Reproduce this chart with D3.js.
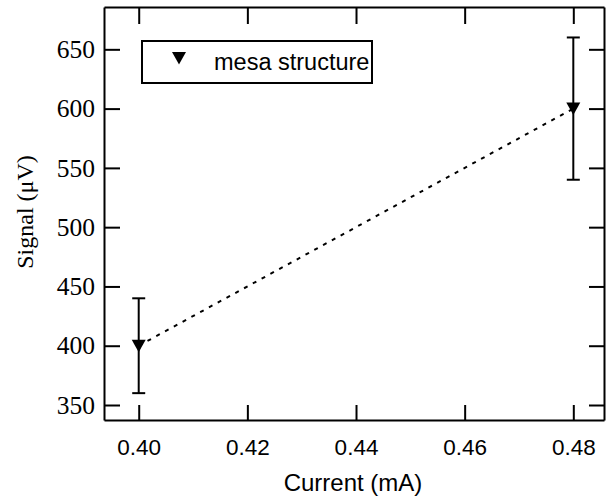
<!DOCTYPE html>
<html>
<head>
<meta charset="utf-8">
<script src="https://cdn.jsdelivr.net/npm/d3@7"></script>
<style>
  html, body { margin: 0; padding: 0; background: #fff; }
  svg { display: block; }
</style>
</head>
<body>
<svg id="chart" width="608" height="500"></svg>
<script>
// Measured signal versus drive current for the mesa structure
const current = [0.40, 0.48];          // mA
const signal = [400, 600];             // µV
const signalErr = [40, 60];            // µV, symmetric error
const xTickValues = [0.40, 0.42, 0.44, 0.46, 0.48];
const yTickValues = [350, 400, 450, 500, 550, 600, 650];
const seriesName = "mesa structure";

const W = 608, H = 500;
const plot = { left: 104, right: 604, top: 7, bottom: 420 };

const svg = d3.select("#chart");

const x = d3.scaleLinear().domain([0.39361, 0.48565]).range([plot.left, plot.right]);
const y = d3.scaleLinear().domain([337.35, 685.7]).range([plot.bottom, plot.top]);

const sans = "'Liberation Sans', Arial, sans-serif";
const serif = "'Liberation Serif', 'Times New Roman', serif";

// Axes: ticks point into the plot on all four sides
const gBottom = svg.append("g")
  .attr("transform", `translate(0,${plot.bottom})`)
  .call(d3.axisBottom(x).tickValues(xTickValues).tickFormat(d3.format(".2f"))
        .tickSizeInner(-15).tickSizeOuter(0).tickPadding(19));
gBottom.selectAll("text").attr("font-family", sans).attr("font-size", 22.5).attr("fill", "#000");

const gTop = svg.append("g")
  .attr("transform", `translate(0,${plot.top})`)
  .call(d3.axisTop(x).tickValues(xTickValues).tickFormat("")
        .tickSizeInner(-17).tickSizeOuter(0));

const gLeft = svg.append("g")
  .attr("transform", `translate(${plot.left},0)`)
  .call(d3.axisLeft(y).tickValues(yTickValues).tickFormat(d3.format("d"))
        .tickSizeInner(-16).tickSizeOuter(0).tickPadding(9));
gLeft.selectAll("text").attr("font-family", serif).attr("font-size", 25.5).attr("fill", "#000");

const gRight = svg.append("g")
  .attr("transform", `translate(${plot.right},0)`)
  .call(d3.axisRight(y).tickValues(yTickValues).tickFormat("")
        .tickSizeInner(-15).tickSizeOuter(0));

[gBottom, gTop, gLeft, gRight].forEach(g => {
  g.select(".domain").attr("stroke", "#000").attr("stroke-width", 2);
  g.selectAll(".tick line").attr("stroke", "#000").attr("stroke-width", 2);
});

// Axis titles
svg.append("text")
  .attr("x", 353)
  .attr("y", 491)
  .attr("text-anchor", "middle")
  .attr("font-family", sans)
  .attr("font-size", 24)
  .text("Current (mA)");

svg.append("text")
  .attr("transform", "translate(33,212) rotate(-90)")
  .attr("text-anchor", "middle")
  .attr("font-family", serif)
  .attr("font-size", 24)
  .text("Signal (\u03BCV)");

const pts = current.map((c, i) => ({ c, s: signal[i], e: signalErr[i] }));

// Dotted connecting line
svg.append("path")
  .datum(pts)
  .attr("fill", "none")
  .attr("stroke", "#000")
  .attr("stroke-width", 2)
  .attr("stroke-dasharray", "4,6")
  .attr("d", d3.line().x(d => x(d.c)).y(d => y(d.s)));

// Error bars with caps
const capHalf = 6.5;
const eb = svg.append("g").attr("stroke", "#000").attr("stroke-width", 2);
pts.forEach(d => {
  eb.append("line").attr("x1", x(d.c)).attr("x2", x(d.c))
    .attr("y1", y(d.s - d.e)).attr("y2", y(d.s + d.e));
  [d.s - d.e, d.s + d.e].forEach(v => {
    eb.append("line").attr("x1", x(d.c) - capHalf).attr("x2", x(d.c) + capHalf)
      .attr("y1", y(v)).attr("y2", y(v));
  });
});

// Downward triangle markers
const tri = "M-7,-6L7,-6L0,6.5Z";
svg.append("g").selectAll("path")
  .data(pts)
  .join("path")
  .attr("d", tri)
  .attr("transform", d => `translate(${x(d.c)},${y(d.s)})`)
  .attr("fill", "#000");

// Legend
const lg = svg.append("g");
lg.append("rect")
  .attr("x", 142).attr("y", 41).attr("width", 230).attr("height", 42)
  .attr("fill", "#fff").attr("stroke", "#000").attr("stroke-width", 2);
lg.append("path").attr("d", tri).attr("transform", "translate(179,58)").attr("fill", "#000");
lg.append("text")
  .attr("x", 214).attr("y", 70)
  .attr("font-family", sans)
  .attr("font-size", 23.5)
  .text(seriesName);
</script>
</body>
</html>
